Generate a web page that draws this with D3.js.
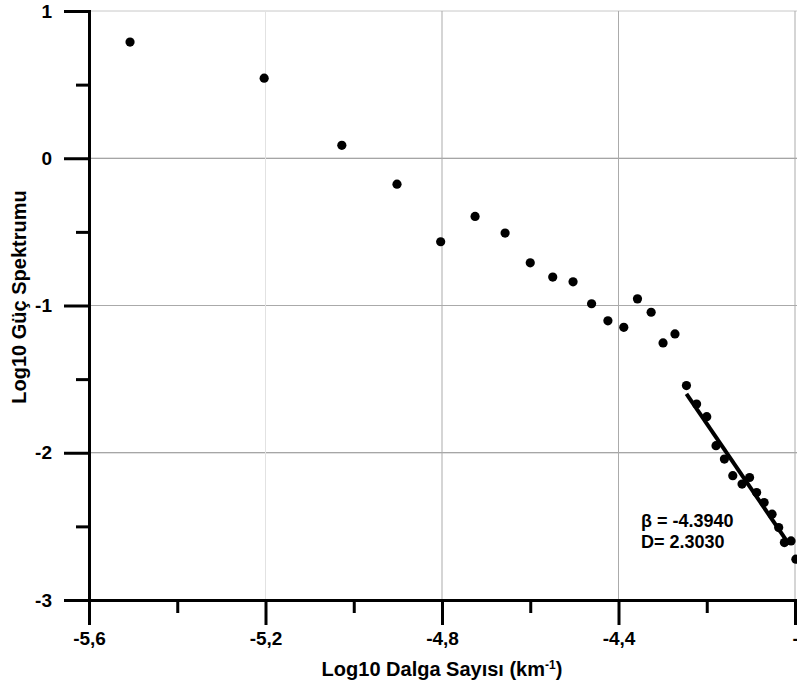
<!DOCTYPE html>
<html>
<head>
<meta charset="utf-8">
<script src="https://cdn.jsdelivr.net/npm/d3@7"></script>
<style>
body { margin: 0; background: #fff; }
svg { display: block; }
text { font-family: "Liberation Sans", Arial, sans-serif; font-weight: bold; fill: #000; }
</style>
</head>
<body>
<div id="chart"></div>
<script>
// log10 dalga sayisi (x) ve log10 guc spektrumu (y)
var waveNum = [-5.507, -5.203, -5.027, -4.902, -4.803, -4.725, -4.657, -4.600,
               -4.549, -4.503, -4.461, -4.424, -4.388, -4.357, -4.326, -4.299,
               -4.272, -4.246, -4.223, -4.200, -4.179, -4.160, -4.141, -4.120,
               -4.103, -4.087, -4.070, -4.052, -4.037, -4.024, -4.009, -3.998];
var power   = [0.789, 0.544, 0.088, -0.176, -0.567, -0.395, -0.508, -0.710,
               -0.807, -0.839, -0.988, -1.104, -1.148, -0.955, -1.046, -1.254,
               -1.193, -1.544, -1.669, -1.755, -1.952, -2.043, -2.156, -2.213,
               -2.168, -2.270, -2.338, -2.417, -2.508, -2.610, -2.599, -2.723];

var xMajor = [-5.6, -5.2, -4.8, -4.4, -4.0];
var xMinor = [-5.4, -5.0, -4.6, -4.2];
var xTickLabels = ["-5,6", "-5,2", "-4,8", "-4,4", "-4,0"];
var yMajor = [1, 0, -1, -2, -3];
var yMinor = [0.5, -0.5, -1.5, -2.5];
var yTickLabels = ["1", "0", "-1", "-2", "-3"];

var beta = -4.3940;      // egim
var fractalD = 2.3030;   // fraktal boyut
var fitRange = [-4.246, -4.015];

var width = 797, height = 686;
var svg = d3.select("#chart").append("svg")
    .attr("width", width)
    .attr("height", height);

var x = d3.scaleLinear().domain([-5.6, -4.0]).range([89, 795]);
var y = d3.scaleLinear().domain([-3, 1]).range([600, 11]);

// grid
svg.append("g").selectAll("line")
    .data(yMajor.slice(0, 4))
    .enter().append("line")
    .attr("x1", x(-5.6)).attr("x2", width)
    .attr("y1", function (d) { return y(d); })
    .attr("y2", function (d) { return y(d); })
    .attr("stroke", function (d) { return d == 1 ? "#c8c8c8" : (d == -1 ? "#aaa" : "#888"); })
    .attr("stroke-width", 1);

svg.append("g").selectAll("line")
    .data(xMajor.slice(1))
    .enter().append("line")
    .attr("y1", y(1)).attr("y2", y(-3))
    .attr("x1", function (d) { return x(d); })
    .attr("x2", function (d) { return x(d); })
    .attr("stroke", function (d) { return d == -5.2 ? "#e2e2e2" : "#ababab"; })
    .attr("stroke-width", 1);

// egim dogrusu
var pts = waveNum.map(function (d, i) { return [d, power[i]]; });
var tail = pts.filter(function (p) { return p[0] >= fitRange[0]; });
var mx = d3.mean(tail, function (p) { return p[0]; });
var my = d3.mean(tail, function (p) { return p[1]; });
var b = my - beta * mx;

svg.append("line")
    .attr("x1", x(fitRange[0])).attr("y1", y(beta * fitRange[0] + b))
    .attr("x2", x(fitRange[1])).attr("y2", y(beta * fitRange[1] + b))
    .attr("stroke", "#000")
    .attr("stroke-width", 4);

// noktalar
svg.append("g").selectAll("circle")
    .data(pts)
    .enter().append("circle")
    .attr("cx", function (d) { return x(d[0]); })
    .attr("cy", function (d) { return y(d[1]); })
    .attr("r", 4.6)
    .attr("fill", "#000");

// eksenler
function styleAxis(g) {
    g.selectAll("path, line").attr("stroke", "#000").attr("stroke-width", 3);
    g.selectAll("path").attr("stroke-linecap", "square");
}

var gx = svg.append("g").attr("transform", "translate(0," + y(-3) + ")");
gx.call(d3.axisBottom(x).tickValues(xMinor).tickSize(13).tickSizeOuter(0).tickFormat(""))
    .call(styleAxis);
gx.append("g").call(d3.axisBottom(x).tickValues(xMajor).tickSize(25).tickSizeOuter(0)
        .tickFormat(function (d, i) { return xTickLabels[i]; }).tickPadding(7))
    .call(styleAxis);
gx.selectAll("text").attr("font-size", 19).attr("font-family", null).attr("fill", "#000");
// son etiket sag kenarda kesiliyor, orijinaldeki gibi
gx.selectAll(".tick text").filter(function (d) { return d == -4.0; })
    .attr("text-anchor", "start").attr("x", -3);

var gy = svg.append("g").attr("transform", "translate(" + x(-5.6) + ",0)");
gy.call(d3.axisLeft(y).tickValues(yMinor).tickSize(13).tickSizeOuter(0).tickFormat(""))
    .call(styleAxis);
gy.append("g").call(d3.axisLeft(y).tickValues(yMajor).tickSize(25).tickSizeOuter(0)
        .tickFormat(function (d, i) { return yTickLabels[i]; }).tickPadding(12))
    .call(styleAxis);
gy.selectAll("text").attr("font-size", 19).attr("font-family", null).attr("fill", "#000");

// eksen basliklari
var xt = svg.append("text")
    .attr("x", 442).attr("y", 676)
    .attr("text-anchor", "middle")
    .attr("font-size", 20)
    .text("Log10 Dalga Sayısı (km");
xt.append("tspan").attr("font-size", 12).attr("dy", -7).text("-1");
xt.append("tspan").attr("dy", 7).text(")");

svg.append("text")
    .attr("transform", "translate(26,297) rotate(-90)")
    .attr("text-anchor", "middle")
    .attr("font-size", 20)
    .text("Log10 Güç Spektrumu");

// aciklama
svg.append("text").attr("x", 641).attr("y", 527).attr("font-size", 18)
    .text("β = " + beta.toFixed(4));
svg.append("text").attr("x", 641).attr("y", 548).attr("font-size", 18)
    .text("D= " + fractalD.toFixed(4));
</script>
</body>
</html>
